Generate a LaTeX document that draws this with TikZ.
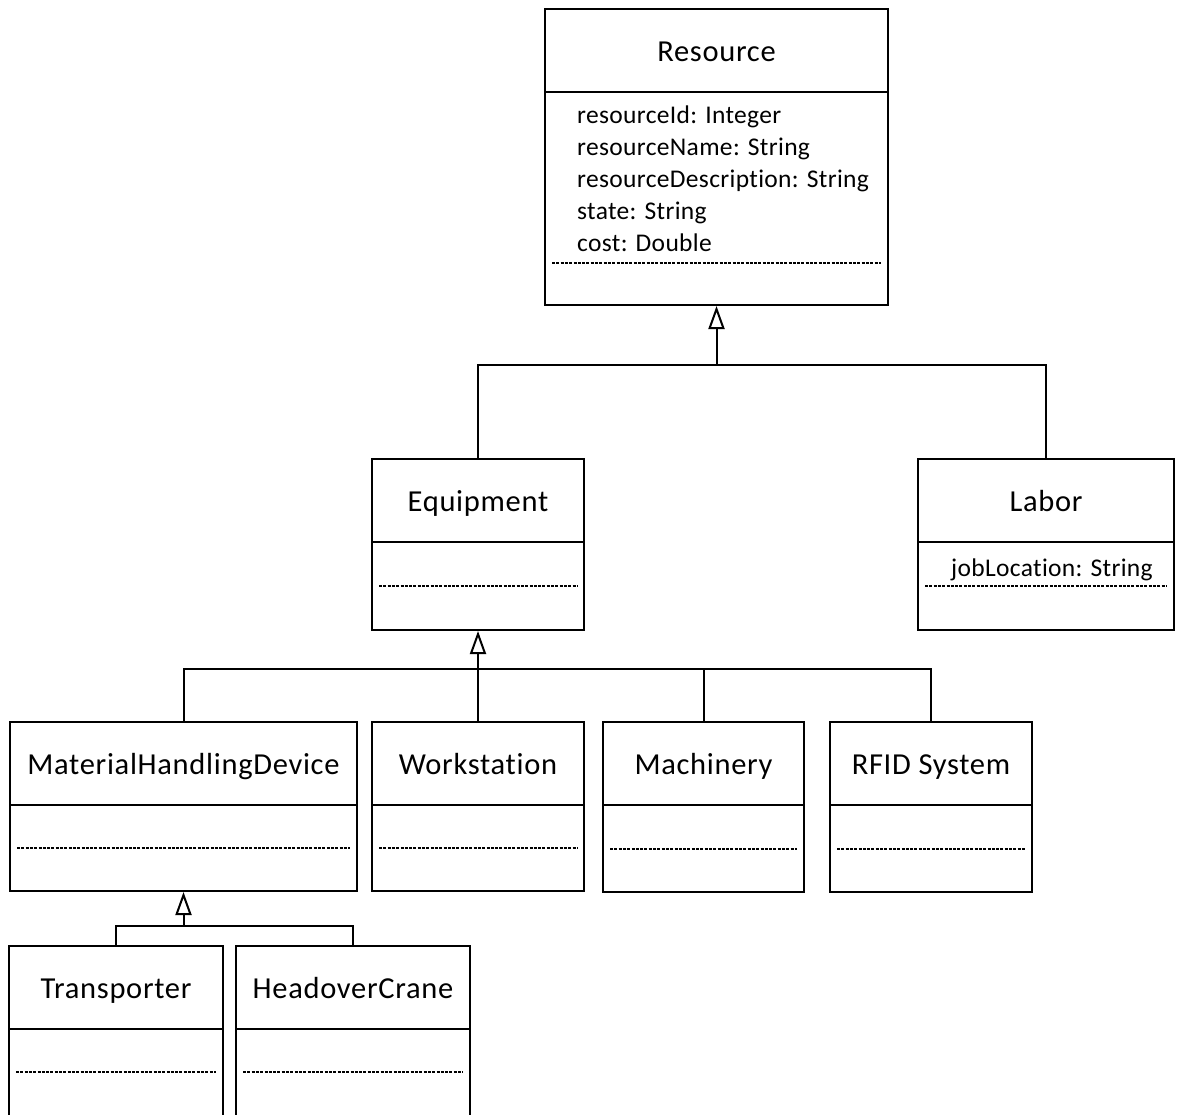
\documentclass[tikz,border=0pt]{standalone}
\usepackage{fontspec}
\setmainfont{Carlito}[Ligatures=NoCommon]
\usetikzlibrary{arrows.meta,calc}

% A UML class: frame, name compartment, attribute compartment with a dashed separator.
% #1 name, #2 left, #3 top, #4 right, #5 bottom, #6 y of the dashed separator, #7 class name
\newcommand\umlclass[7]{%
  \node[classframe, minimum width={(#4)-(#2)}, minimum height={(#5)-(#3)}]
    (#1) at ({((#2)+(#4))/2},{((#3)+(#5))/2}) {};
  \node[classtitle] (#1-name) at ({((#2)+(#4))/2},{(#3)+52}) {#7};
  \draw[frame] (#2,{(#3)+83}) -- (#4,{(#3)+83});
  \draw[opsep] ({(#2)+7},#6) -- ({(#4)-7},#6);
}

\begin{document}
\begin{tikzpicture}[x=1pt,y=-1pt,
  frame/.style={line width=2pt},
  classframe/.style={draw, line width=2pt, rectangle, inner sep=0pt},
  classtitle/.style={anchor=base, inner sep=0pt,
    font=\fontsize{30.5}{36}\selectfont\addfontfeatures{LetterSpace=2.3}},
  attr/.style={anchor=base west, inner sep=0pt,
    font=\fontsize{25.5}{30}\selectfont\addfontfeatures{LetterSpace=1.3}},
  opsep/.style={line width=1.3pt, dash pattern=on 3pt off 1.3pt},
  conn/.style={line width=2pt},
  gen/.style={line width=2pt, -{Triangle[open, length=23pt, width=16pt, line width=2pt]}}
]
\useasboundingbox (0,0) rectangle (1182,1114);
\fill[white] (0,0) rectangle (1182,1114);
\clip (0,0) rectangle (1182,1114);

% classes
\umlclass{res}{545}{9}{888}{305}{263}{Resource}
\node[attr] (res-a1) at (577,123) {resourceId: Integer};
\node[attr] (res-a2) at (577,155) {resourceName: String};
\node[attr] (res-a3) at (577,187) {resourceDescription: String};
\node[attr] (res-a4) at (577,219) {state: String};
\node[attr] (res-a5) at (577,251) {cost: Double};

\umlclass{equip}{372}{459}{584}{630}{586}{Equipment}
\umlclass{labor}{918}{459}{1174}{630}{586}{Labor}
\node[attr] (labor-a1) at (951,576) {jobLocation: String};

\umlclass{mhd}{10}{722}{357}{891}{848}{MaterialHandlingDevice}
\umlclass{ws}{372}{722}{584}{891}{848}{Workstation}
\umlclass{mach}{603}{722}{804}{892}{849}{Machinery}
\umlclass{rfid}{830}{722}{1032}{892}{849}{RFID System}

\umlclass{trans}{9}{946}{223}{1120}{1072}{Transporter}
\umlclass{crane}{236}{946}{470}{1120}{1072}{HeadoverCrane}

% generalisation connectors
\coordinate (bus1) at ($(res.south)+(0,59)$);
\draw[conn] (equip.north) |- (bus1) -| (labor.north);
\draw[gen] (bus1) -- (res.south);

\coordinate (bus2) at ($(equip.south)+(0,38)$);
\draw[conn] (mhd.north) |- (bus2) -| (rfid.north);
\draw[conn] (mach.north) |- (bus2);
\draw[conn] (ws.north) -- (bus2);
\draw[gen] (bus2) -- (equip.south);

\coordinate (bus3) at ($(mhd.south)+(0,34)$);
\draw[conn] (trans.north) |- (bus3) -| (crane.north);
\draw[gen] (bus3) -- (mhd.south);
\end{tikzpicture}
\end{document}
